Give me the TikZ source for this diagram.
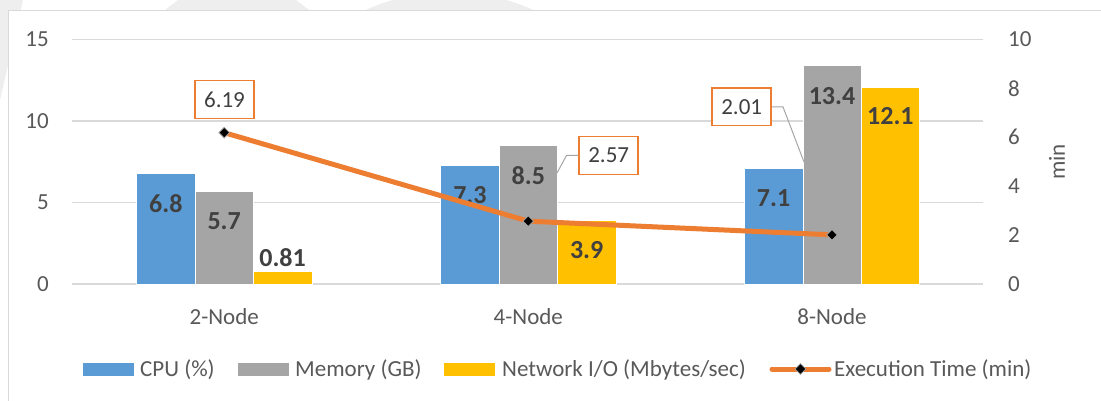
\documentclass[tikz,border=0pt]{standalone}
\usepackage{fontspec}
\setmainfont{Carlito}
\usetikzlibrary{shapes.geometric}
\definecolor{cpu}{HTML}{5B9BD5}
\definecolor{mem}{HTML}{A5A5A5}
\definecolor{net}{HTML}{FFC000}
\definecolor{exe}{HTML}{ED7D31}
\definecolor{txt}{HTML}{595959}
\definecolor{lbl}{HTML}{404040}
\definecolor{gridc}{HTML}{D9D9D9}
\definecolor{wm}{HTML}{EEEEEE}
\definecolor{leader}{HTML}{A6A6A6}
\begin{document}
\begin{tikzpicture}[x=1pt,y=-1pt,
  axlbl/.style={text=txt,font=\fontsize{23}{27}\selectfont,inner sep=0pt},
  leglbl/.style={text=txt,font=\fontsize{23}{27}\selectfont,inner sep=0pt,anchor=base west,yshift=-7.4pt},
  barlbl/.style={text=lbl,font=\fontsize{26}{30}\selectfont\bfseries,inner sep=0pt},
  callout/.style={draw=exe,line width=1.5pt,fill=white,text=lbl,font=\fontsize{23}{27}\selectfont,minimum width=59pt,minimum height=37.6pt,inner sep=0pt},
  marker/.style={diamond,fill=black,draw=mem,line width=0.8pt,minimum size=11pt,inner sep=0pt},
  gridline/.style={draw=gridc,line width=1.2pt},
  leaderline/.style={draw=leader,line width=1pt},
  bar/.style={draw=white,line width=0.5pt}]
\useasboundingbox (0,0) rectangle (1101,401);
\fill[white] (0,0) rectangle (1101,401);
% faint background shapes
\fill[wm] (0,0) -- (23,0) -- (0,100) -- cycle;
\fill[wm] (165,10) -- (178,0) -- (296,0) -- (309,10) -- cycle;
\fill[wm] (449.5pt,-195.5pt) circle[radius=203.5pt];
% chart frame
\draw[gridc,line width=1pt,fill=white] (8.5,10.5) rectangle (1120,420);
% gridlines and left axis
\foreach \v in {0,5,10,15} {
  \draw[gridline] (72,{284-\v*16.3}) -- (983,{284-\v*16.3});
  \node[axlbl,anchor=east] (l\v) at (49,{284-\v*16.3}) {\v};
}
% right axis
\foreach \v in {0,2,4,6,8,10} {
  \node[axlbl,anchor=west] (r\v) at (1008,{284-\v*24.45}) {\v};
}
\node[axlbl,rotate=90] (minlbl) at (1057,162) {min};
% bars
\foreach \c/\a/\b/\n in {224.2/6.8/5.7/0.81, 528.3/7.3/8.5/3.9, 832/7.1/13.4/12.1} {
  \fill[cpu,bar] (\c-87.6,284) rectangle (\c-29.2,{284-\a*16.3});
  \fill[mem,bar] (\c-29.2,284) rectangle (\c+29.2,{284-\b*16.3});
  \fill[net,bar] (\c+29.2,284) rectangle (\c+87.6,{284-\n*16.3});
}
% bar labels
\node[barlbl] (v11) at (224.2-58.4,{284-6.8*16.3+30}) {6.8};
\node[barlbl] (v12) at (224.2,{284-5.7*16.3+30}) {5.7};
\node[barlbl] (v13) at (224.2+58.4,{284-0.81*16.3-13.5}) {0.81};
\node[barlbl] (v21) at (528.3-58.4,{284-7.3*16.3+30}) {7.3};
\node[barlbl] (v22) at (528.3,{284-8.5*16.3+30}) {8.5};
\node[barlbl] (v23) at (528.3+58.4,{284-3.9*16.3+30}) {3.9};
\node[barlbl] (v31) at (832-58.4,{284-7.1*16.3+30}) {7.1};
\node[barlbl] (v32) at (832,{284-13.4*16.3+30}) {13.4};
\node[barlbl] (v33) at (832+58.4,{284-12.1*16.3+29}) {12.1};
% execution time line
\coordinate (p1) at (224.2,{284-6.19*24.45});
\coordinate (p2) at (528.3,{284-2.57*24.45});
\coordinate (p3) at (832,{284-2.01*24.45});
\draw[exe,line width=5pt] (p1) -- (p2) -- (p3);
\node[marker] (m1) at (p1) {};
\node[marker] (m2) at (p2) {};
\node[marker] (m3) at (p3) {};
% callouts
\node[callout] (c1) at (224.5,99.5) {6.19};
\node[callout] (c2) at (608.7,155.5) {2.57};
\node[callout] (c3) at (741.7,106.8) {2.01};
\coordinate (e2) at (557,173);
\coordinate (e3) at (804,162);
\draw[leaderline] (c2.west) -- ++(-12,0) -- (e2);
\draw[leaderline] (c3.east) -- ++(11,0) -- (e3);
% category labels
\node[axlbl] (cat1) at (224.2,317) {2-Node};
\node[axlbl] (cat2) at (528.3,317) {4-Node};
\node[axlbl] (cat3) at (832,317) {8-Node};
% legend
\fill[cpu] (83,362.5) rectangle (134,375.5);
\node[leglbl] (lg1) at (140,369) {CPU (\%)};
\fill[mem] (237.5,362.5) rectangle (288.5,375.5);
\node[leglbl] (lg2) at (295,369) {Memory (GB)};
\fill[net] (444,362.5) rectangle (495,375.5);
\node[leglbl] (lg3) at (502,369) {Network I/O (Mbytes/sec)};
\coordinate (ls1) at (772,369);
\coordinate (ls2) at (829,369);
\draw[exe,line width=5pt,line cap=round] (ls1) -- (ls2);
\node[marker] (lm) at (800.5,369) {};
\node[leglbl] (lg4) at (834,369) {Execution Time (min)};
\end{tikzpicture}
\end{document}
